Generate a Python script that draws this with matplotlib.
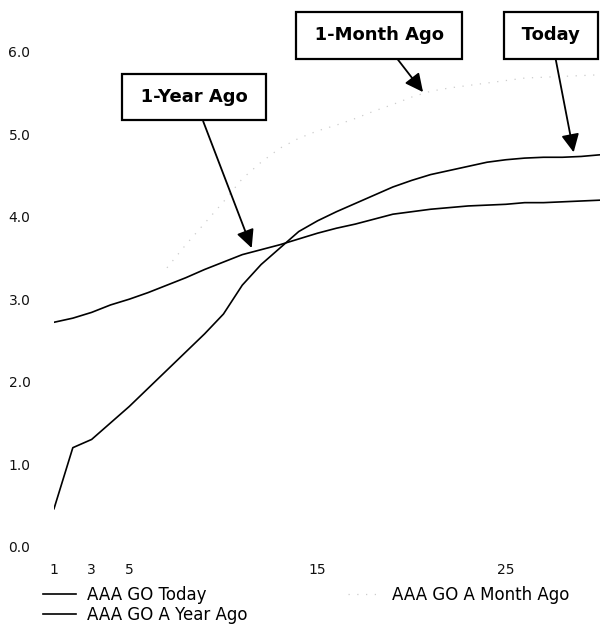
import numpy as np
import matplotlib.pyplot as plt

plt.rcParams['font.family'] = ['DejaVu Sans']

# maturities (years) and yields
years = np.arange(1, 31)
today = [0.46, 1.20, 1.30, 1.50, 1.70, 1.92, 2.14, 2.36, 2.58, 2.82,
         3.17, 3.42, 3.62, 3.82, 3.95, 4.06, 4.16, 4.26, 4.36, 4.44,
         4.51, 4.56, 4.61, 4.66, 4.69, 4.71, 4.72, 4.72, 4.73, 4.75]
year_ago = [2.72, 2.77, 2.84, 2.93, 3.00, 3.08, 3.17, 3.26, 3.36, 3.45,
            3.54, 3.60, 3.66, 3.73, 3.80, 3.86, 3.91, 3.97, 4.03, 4.06,
            4.09, 4.11, 4.13, 4.14, 4.15, 4.17, 4.17, 4.18, 4.19, 4.20]
# the month-ago curve is only visible from year 7 on
month_years = np.arange(7, 31)
month_ago = [3.38, 3.66, 3.92, 4.18, 4.46, 4.66, 4.83, 4.95, 5.04, 5.11,
             5.19, 5.28, 5.36, 5.45, 5.52, 5.56, 5.59, 5.62, 5.65, 5.68,
             5.69, 5.70, 5.71, 5.72]

xticks = [1, 3, 5, 15, 25]
yticks = [0, 1, 2, 3, 4, 5, 6]

# annotation text, arrow tip (data) and text centre (data)
notes = [
    ('1-Year Ago', (11.5, 3.62), (8.43, 5.45)),
    ('1-Month Ago', (20.6, 5.51), (18.26, 6.2)),
    ('Today', (28.6, 4.78), (27.4, 6.2)),
]

fig = plt.figure(figsize=(6.04, 6.24), dpi=100)
ax = fig.add_axes([0.0894, 0.1239, 0.904, 0.7933])

ax.plot(years, today, color='black', lw=1.2, label='AAA GO Today')
ax.plot(years, year_ago, color='black', lw=1.2, label='AAA GO A Year Ago')
ax.plot(month_years, month_ago, color='#cccccc', lw=0.9,
        linestyle=(0, (1, 6)), label='AAA GO A Month Ago')

ax.set_xlim(1, 30)
ax.set_ylim(0, 6)
ax.set_xticks(xticks)
ax.set_yticks(yticks)
ax.set_yticklabels([f'{v:.1f}' for v in yticks])
ax.tick_params(length=0, labelsize=10, colors='#111111')
ax.tick_params(axis='y', pad=17)
ax.tick_params(axis='x', pad=12)
for s in ax.spines.values():
    s.set_visible(False)

for txt, tip, pos in notes:
    ax.annotate('\u2009' + txt + '\u2009', xy=tip, xytext=pos,
                ha='center', va='center',
                fontsize=13, fontweight='bold', annotation_clip=False,
                bbox=dict(boxstyle='square,pad=0.8', fc='white', ec='black', lw=1.6),
                arrowprops=dict(arrowstyle='-|>,head_length=0.55,head_width=0.27',
                                color='black', lw=1.3, mutation_scale=20,
                                shrinkA=0, shrinkB=0))

fig.legend(loc='upper left', bbox_to_anchor=(0.0464, 0.0857), ncol=2,
           frameon=False, fontsize=12, handlelength=2.0, handletextpad=0.65,
           columnspacing=6.0, labelspacing=0.15,
           bbox_transform=fig.transFigure)

fig.savefig('out.png', dpi=100)
